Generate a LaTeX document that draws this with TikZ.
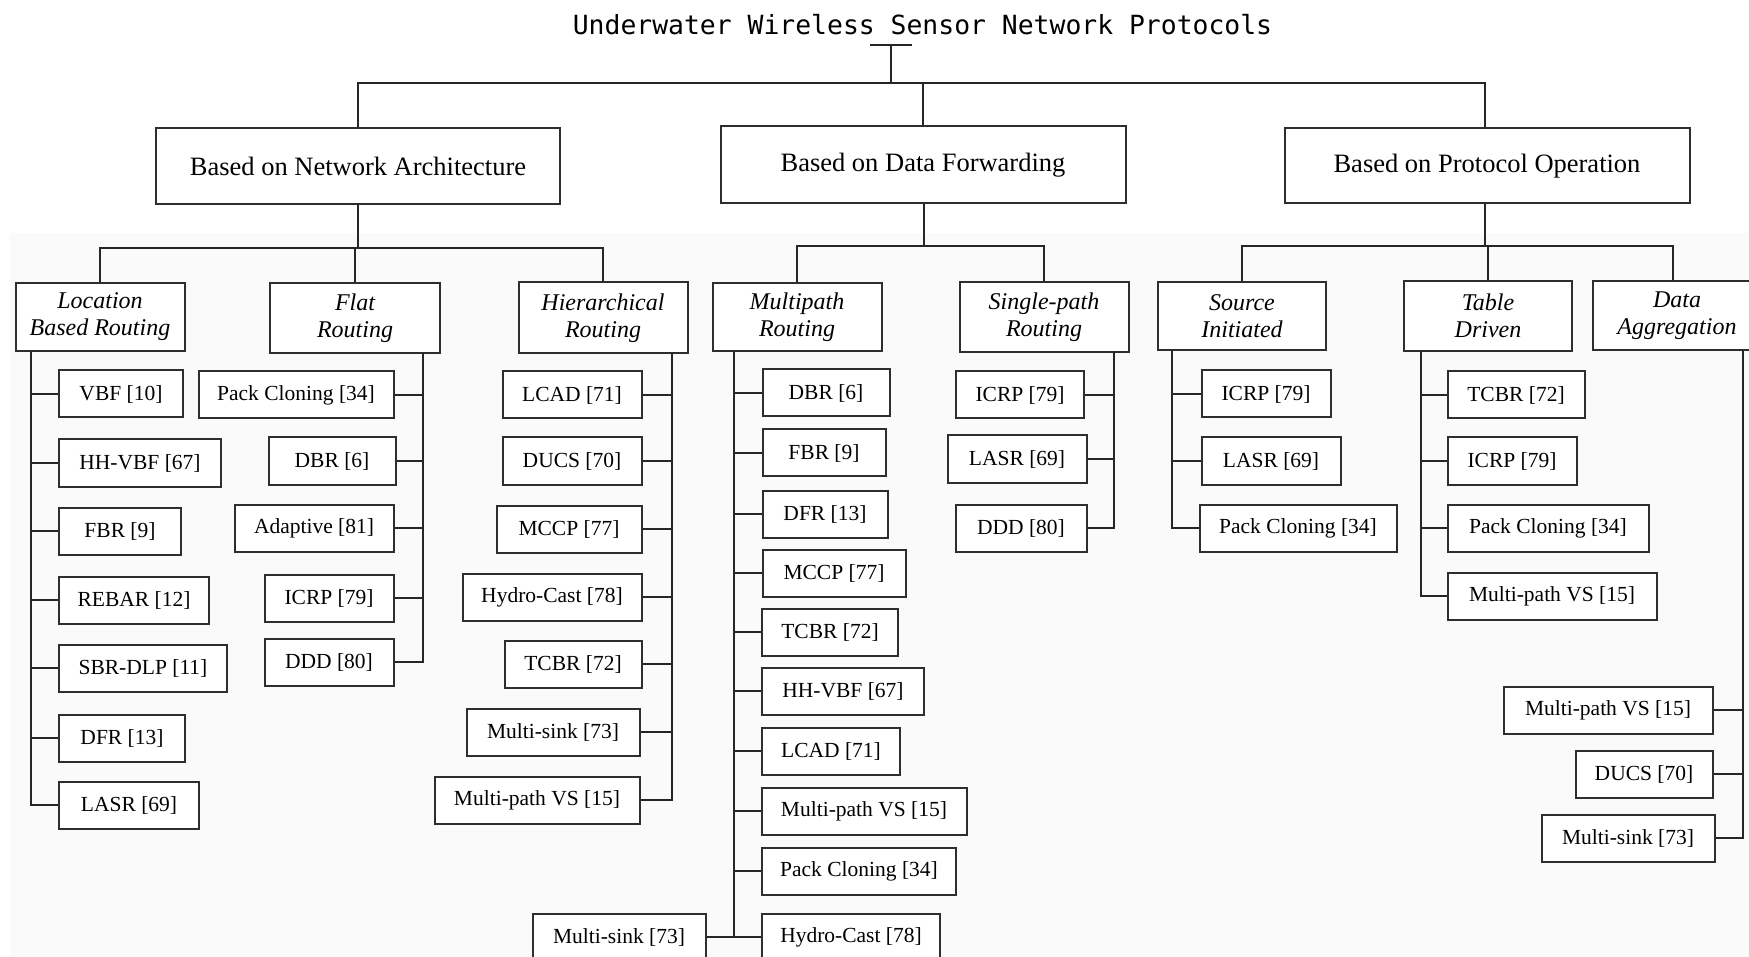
\documentclass[tikz,border=0pt]{standalone}
\usepackage{fontspec}
\setmainfont{Liberation Serif}
\newfontfamily\monotitle{DejaVu Sans Mono}
\begin{document}
\begin{tikzpicture}[x=1pt,y=-1pt,
  boxline/.style={draw=black!82, line width=2pt, fill=white, inner sep=0pt},
  topbox/.style={boxline, font=\fontsize{26.5}{30}\selectfont},
  groupbox/.style={boxline, align=center, font=\fontsize{24}{27}\selectfont\itshape},
  leaf/.style={boxline, minimum height=47pt, font=\fontsize{21.5}{24}\selectfont},
  wire/.style={draw=black!85, line width=2pt}]
\useasboundingbox (0,0) rectangle (1749,957);
\clip (0,0) rectangle (1749,957);
% faint paper tone behind the lower part
\fill[black!2] (10,233) rectangle (1749,957);

% ---------- root ----------
\node[font=\monotitle\fontsize{26.4}{30}\selectfont, anchor=base, inner sep=0pt]
  (title) at (922.5,35) {Underwater Wireless Sensor Network Protocols};
\coordinate (stubL) at (870,45);
\coordinate (stubR) at (912,45);
\coordinate (stub)  at (891,45);
\coordinate (bus0)  at (891,83);

% ---------- first level ----------
\node[topbox, minimum width=404pt, minimum height=76pt] (arch) at (358,166) {Based on Network Architecture};
\node[topbox, minimum width=405pt, minimum height=77pt] (fwd)  at (923,165) {Based on Data Forwarding};
\node[topbox, minimum width=405pt, minimum height=75pt] (oper) at (1487,166) {Based on Protocol Operation};

% ---------- second level ----------
\node[groupbox, minimum width=169pt, minimum height=68pt] (loc)    at (100,317)  {Location\\Based Routing};
\node[groupbox, minimum width=170pt, minimum height=70pt] (flat)   at (355,318)  {Flat\\Routing};
\node[groupbox, minimum width=169pt, minimum height=71pt] (hier)   at (603,318)  {Hierarchical\\Routing};
\node[groupbox, minimum width=169pt, minimum height=68pt] (multi)  at (797,317)  {Multipath\\Routing};
\node[groupbox, minimum width=169pt, minimum height=70pt] (single) at (1044,317) {Single-path\\Routing};
\node[groupbox, minimum width=168pt, minimum height=68pt] (source) at (1242,316) {Source\\Initiated};
\node[groupbox, minimum width=168pt, minimum height=70pt] (table)  at (1488,316) {Table\\Driven};
\node[groupbox, minimum width=169pt, minimum height=69pt] (agg)    at (1677,316) {Data\\Aggregation};

\coordinate (bus1) at (358,248);
\coordinate (bus2) at (924,246);
\coordinate (bus3) at (1485,246);

% ---------- location based routing ----------
\node[leaf, minimum width=124pt] (l1) at (121,394) {VBF [10]};
\node[leaf, minimum width=162pt] (l2) at (140,463) {HH-VBF [67]};
\node[leaf, minimum width=122pt] (l3) at (120,531) {FBR [9]};
\node[leaf, minimum width=150pt] (l4) at (134,600) {REBAR [12]};
\node[leaf, minimum width=168pt] (l5) at (143,668) {SBR-DLP [11]};
\node[leaf, minimum width=126pt] (l6) at (122,738) {DFR [13]};
\node[leaf, minimum width=140pt] (l7) at (129,805) {LASR [69]};
\coordinate (locT) at (31,351);

% ---------- flat routing ----------
\node[leaf, minimum width=195pt] (f1) at (296,395) {Pack Cloning [34]};
\node[leaf, minimum width=127pt] (f2) at (332,461) {DBR [6]};
\node[leaf, minimum width=159pt] (f3) at (314,528) {Adaptive [81]};
\node[leaf, minimum width=129pt] (f4) at (329,598) {ICRP [79]};
\node[leaf, minimum width=129pt] (f5) at (329,662) {DDD [80]};
\coordinate (flatT) at (423,353);

% ---------- hierarchical routing ----------
\node[leaf, minimum width=139pt] (h1) at (572,395) {LCAD [71]};
\node[leaf, minimum width=139pt] (h2) at (572,461) {DUCS [70]};
\node[leaf, minimum width=145pt] (h3) at (569,529) {MCCP [77]};
\node[leaf, minimum width=179pt] (h4) at (552,597) {Hydro-Cast [78]};
\node[leaf, minimum width=137pt] (h5) at (573,664) {TCBR [72]};
\node[leaf, minimum width=173pt] (h6) at (553,732) {Multi-sink [73]};
\node[leaf, minimum width=205pt] (h7) at (537,800) {Multi-path VS [15]};
\coordinate (hierT) at (672,353);

% ---------- multipath routing ----------
\node[leaf, minimum width=127pt] (m1)  at (826,393) {DBR [6]};
\node[leaf, minimum width=123pt] (m2)  at (824,453) {FBR [9]};
\node[leaf, minimum width=125pt] (m3)  at (825,514) {DFR [13]};
\node[leaf, minimum width=143pt] (m4)  at (834,573) {MCCP [77]};
\node[leaf, minimum width=136pt] (m5)  at (830,632) {TCBR [72]};
\node[leaf, minimum width=162pt] (m6)  at (843,691) {HH-VBF [67]};
\node[leaf, minimum width=138pt] (m7)  at (831,751) {LCAD [71]};
\node[leaf, minimum width=205pt] (m8)  at (864,811) {Multi-path VS [15]};
\node[leaf, minimum width=194pt] (m9)  at (859,871) {Pack Cloning [34]};
\node[leaf, minimum width=178pt] (m10) at (851,937) {Hydro-Cast [78]};
\node[leaf, minimum width=173pt] (m11) at (619,937) {Multi-sink [73]};
\coordinate (multiT) at (734,351);

% ---------- single-path routing ----------
\node[leaf, minimum width=128pt] (s1) at (1020,395) {ICRP [79]};
\node[leaf, minimum width=139pt] (s2) at (1017,459) {LASR [69]};
\node[leaf, minimum width=131pt] (s3) at (1021,528) {DDD [80]};
\coordinate (singleT) at (1114,352);

% ---------- source initiated ----------
\node[leaf, minimum width=129pt] (o1) at (1266,394) {ICRP [79]};
\node[leaf, minimum width=139pt] (o2) at (1271,461) {LASR [69]};
\node[leaf, minimum width=197pt] (o3) at (1298,528) {Pack Cloning [34]};
\coordinate (sourceT) at (1172,350);

% ---------- table driven ----------
\node[leaf, minimum width=137pt] (t1) at (1516,395) {TCBR [72]};
\node[leaf, minimum width=129pt] (t2) at (1512,461) {ICRP [79]};
\node[leaf, minimum width=201pt] (t3) at (1548,528) {Pack Cloning [34]};
\node[leaf, minimum width=209pt] (t4) at (1552,596) {Multi-path VS [15]};
\coordinate (tableT) at (1421,351);

% ---------- data aggregation ----------
\node[leaf, minimum width=209pt] (a1) at (1608,710) {Multi-path VS [15]};
\node[leaf, minimum width=137pt] (a2) at (1644,774) {DUCS [70]};
\node[leaf, minimum width=173pt] (a3) at (1628,838) {Multi-sink [73]};
\coordinate (aggT) at (1743,350);

% ---------- connectors ----------
\draw[wire] (stubL) -- (stubR);
\draw[wire] (stub) -- (bus0);
\draw[wire] (arch.north) |- (bus0) -| (oper.north -| bus3);
\draw[wire] (fwd.north) -- (fwd.north |- bus0);

\draw[wire] (arch.south) -- (bus1);
\draw[wire] (loc.north) |- (bus1) -| (hier.north);
\draw[wire] (flat.north) -- (flat.north |- bus1);

\draw[wire] (fwd.south -| bus2) -- (bus2);
\draw[wire] (multi.north) |- (bus2) -| (single.north);

\draw[wire] (oper.south -| bus3) -- (bus3);
\draw[wire] (source.north) |- (bus3) -| (agg.north -| 1673,0);
\draw[wire] (table.north) -- (table.north |- bus3);

% location trunk
\draw[wire] (locT) |- (l7.west);
\foreach \n in {l1,l2,l3,l4,l5,l6} \draw[wire] (locT |- \n.west) -- (\n.west);
% flat trunk
\draw[wire] (flatT) |- (f5.east);
\foreach \n in {f1,f2,f3,f4} \draw[wire] (flatT |- \n.east) -- (\n.east);
% hierarchical trunk
\draw[wire] (hierT) |- (h7.east);
\foreach \n in {h1,h2,h3,h4,h5,h6} \draw[wire] (hierT |- \n.east) -- (\n.east);
% multipath trunk
\draw[wire] (multiT) |- (m10.west);
\foreach \n in {m1,m2,m3,m4,m5,m6,m7,m8,m9} \draw[wire] (multiT |- \n.west) -- (\n.west);
\draw[wire] (m11.east) -- (multiT |- m11.east);
% single-path trunk
\draw[wire] (singleT) |- (s3.east);
\foreach \n in {s1,s2} \draw[wire] (singleT |- \n.east) -- (\n.east);
% source initiated trunk
\draw[wire] (sourceT) |- (o3.west);
\foreach \n in {o1,o2} \draw[wire] (sourceT |- \n.west) -- (\n.west);
% table driven trunk
\draw[wire] (tableT) |- (t4.west);
\foreach \n in {t1,t2,t3} \draw[wire] (tableT |- \n.west) -- (\n.west);
% data aggregation trunk
\draw[wire] (aggT) |- (a3.east);
\foreach \n in {a1,a2} \draw[wire] (aggT |- \n.east) -- (\n.east);
\end{tikzpicture}
\end{document}
